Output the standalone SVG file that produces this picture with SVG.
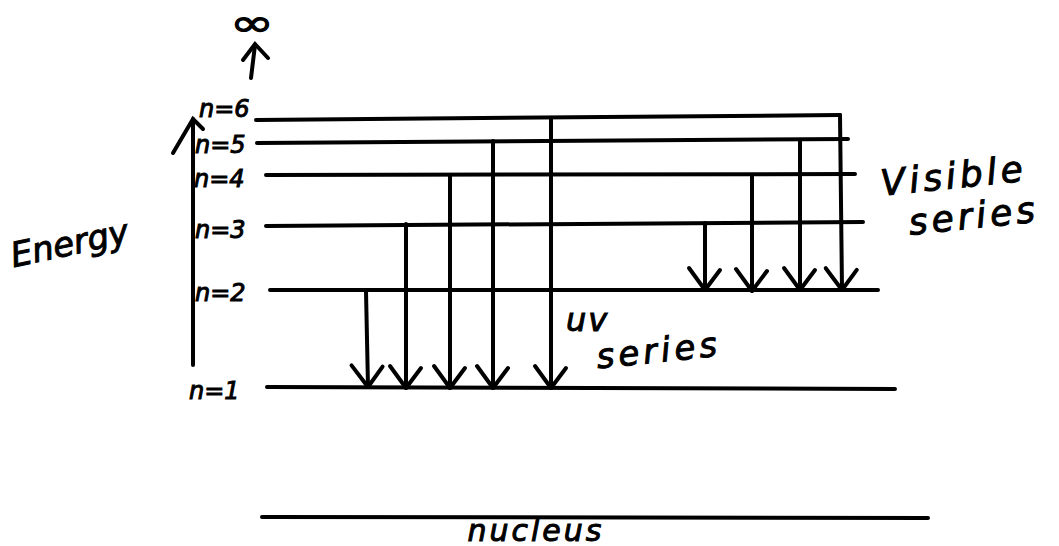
<svg xmlns="http://www.w3.org/2000/svg" width="1059" height="546" viewBox="0 0 1059 546">
  <style>
    .ln { stroke: #000; stroke-width: 4; stroke-linecap: round; fill: none; }
    .tr { stroke: #000; stroke-width: 4; stroke-linecap: round; fill: none; marker-end: url(#head); }
    .lbl { font-family: "DejaVu Sans", sans-serif; font-style: italic; fill: #000; stroke: #000; stroke-width: 1; }
    .lvl { font-size: 24px; }
  </style>
  <defs>
    <marker id="head" markerUnits="userSpaceOnUse" viewBox="-24 -18 28 36" markerWidth="28" markerHeight="36" refX="0" refY="0" orient="auto" overflow="visible">
      <path d="M-20,-15 L0,0 L-22,16" fill="none" stroke="#000" stroke-width="4" stroke-linecap="round" stroke-linejoin="round"/>
    </marker>
  </defs>
  <rect width="1059" height="546" fill="#fff"/>

  <!-- energy axis -->
  <g id="axis">
    <path class="ln" d="M193,365 L193,119"/>
    <path class="ln" d="M173,153 L193,119 L203,129"/>
    <text class="lbl" x="10" y="256" font-size="34" transform="rotate(-12 65 245)">Energy</text>
  </g>

  <!-- infinity limit -->
  <g id="infinity">
    <text class="lbl" x="0" y="0" font-size="38" text-anchor="middle" font-style="normal" stroke-width="1.8" transform="translate(252 36) scale(1.4 1)">∞</text>
    <path class="ln" d="M251,78 L255,45"/>
    <path class="ln" d="M243,60 L255,44 L268,58"/>
  </g>

  <!-- energy levels -->
  <g id="level-6">
    <path class="ln" d="M256,120 L840,115"/>
    <text class="lbl lvl" x="199" y="117">n=6</text>
  </g>
  <g id="level-5">
    <path class="ln" d="M257,143 L848,139"/>
    <text class="lbl lvl" x="195" y="153">n=5</text>
  </g>
  <g id="level-4">
    <path class="ln" d="M266,175 L855,174"/>
    <text class="lbl lvl" x="194" y="187">n=4</text>
  </g>
  <g id="level-3">
    <path class="ln" d="M266,226 L863,222"/>
    <text class="lbl lvl" x="195" y="238">n=3</text>
  </g>
  <g id="level-2">
    <path class="ln" d="M270,290 L878,290"/>
    <text class="lbl lvl" x="195" y="301">n=2</text>
  </g>
  <g id="level-1">
    <path class="ln" d="M267,387 L895,389"/>
    <text class="lbl lvl" x="189" y="399">n=1</text>
  </g>
  <g id="nucleus">
    <path class="ln" d="M262,517 L928,518"/>
    <text class="lbl" x="536" y="541" font-size="30" letter-spacing="3" text-anchor="middle">nucleus</text>
  </g>

  <!-- transitions -->
  <g id="transitions">
    <path class="tr" d="M366,291 L368,387"/>
    <path class="tr" d="M406,224 L406,388"/>
    <path class="tr" d="M450,176 L450,388"/>
    <path class="tr" d="M493,141 L493,388"/>
    <path class="tr" d="M551,119 L551,388"/>
    <path class="tr" d="M705,223 L705,290"/>
    <path class="tr" d="M752,175 L752,291"/>
    <path class="tr" d="M800,140 L800,290"/>
    <path class="tr" d="M840,115 L842,290"/>
  </g>

  <!-- series labels -->
  <g id="uv-label">
    <text class="lbl" x="566" y="331" font-size="32" letter-spacing="2">uv</text>
    <text class="lbl" x="596" y="362" font-size="34" letter-spacing="4" transform="rotate(-6 660 348)">series</text>
  </g>
  <g id="visible-label">
    <text class="lbl" x="880" y="188" font-size="36" letter-spacing="4" transform="rotate(-6 955 172)">Visible</text>
    <text class="lbl" x="908" y="228" font-size="36" letter-spacing="4" transform="rotate(-6 975 212)">series</text>
  </g>
</svg>
